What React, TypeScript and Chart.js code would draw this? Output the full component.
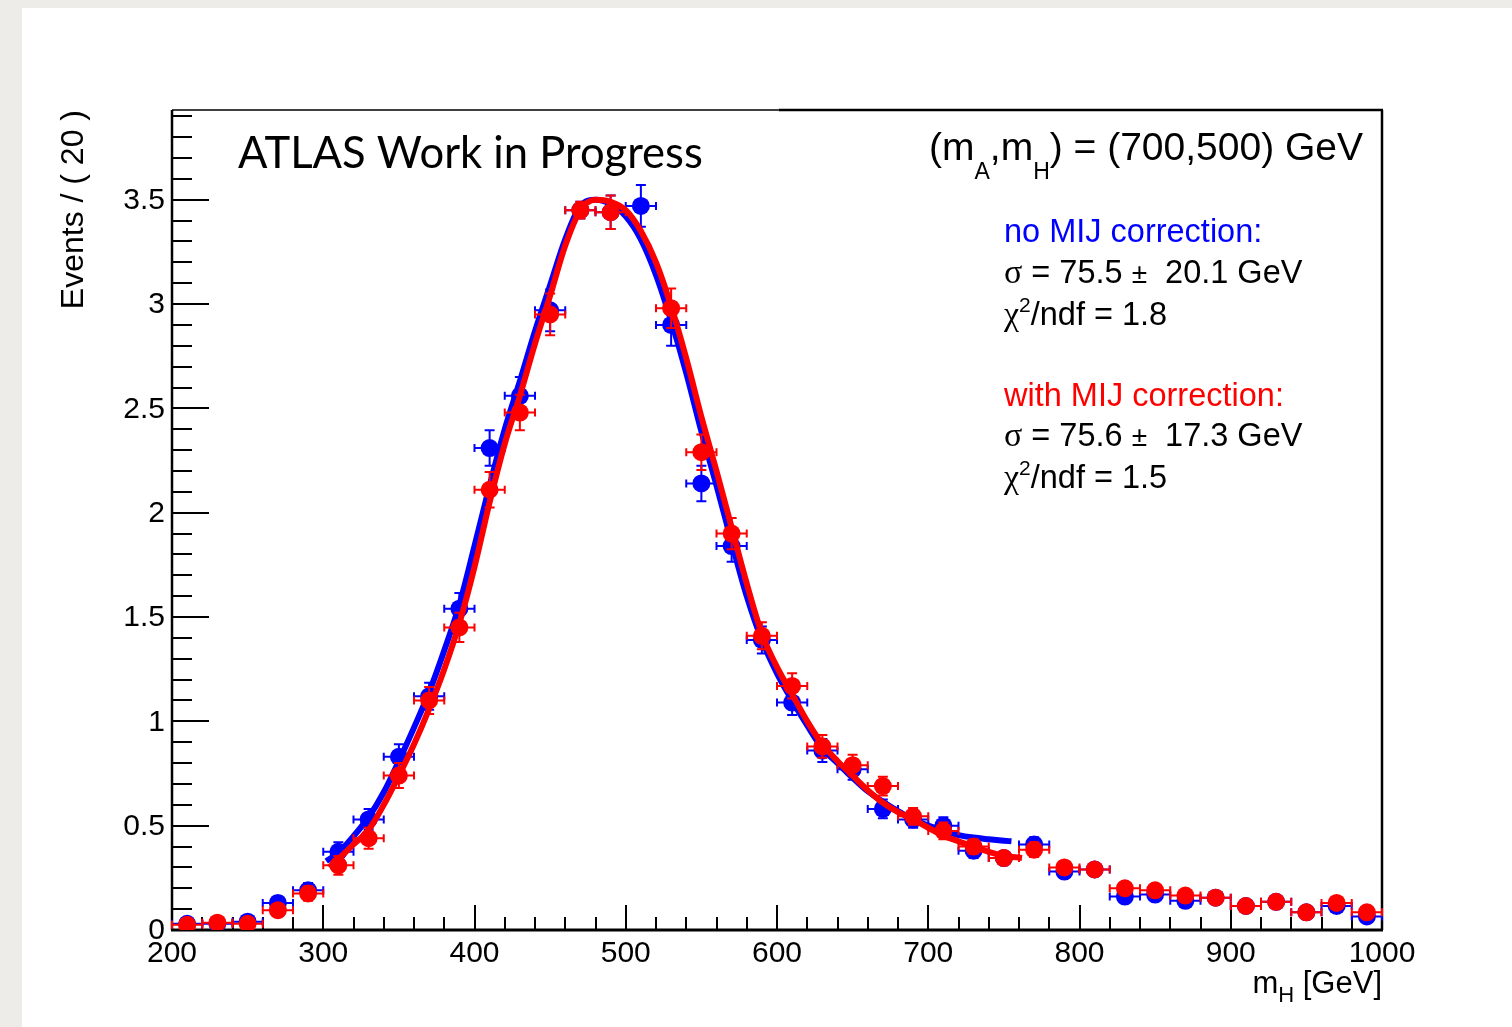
import React, { useEffect, useRef } from 'react';
import { Chart, registerables } from 'chart.js';

Chart.register(...registerables);

// Bin centres of the m_H histogram (20 GeV bins)
const binCenters = [
  210, 230, 250, 270, 290, 310, 330, 350, 370, 390,
  410, 430, 450, 470, 490, 510, 530, 550, 570, 590,
  610, 630, 650, 670, 690, 710, 730, 750, 770, 790,
  810, 830, 850, 870, 890, 910, 930, 950, 970, 990,
];
const binHalfWidth = 10;

// Events per bin without the MIJ correction
const noMijValues = [
  0.03, 0.03, 0.04, 0.13, 0.19, 0.375, 0.53, 0.83, 1.12, 1.54,
  2.31, 2.56, 2.97, 3.45, 3.44, 3.47, 2.90, 2.14, 1.84, 1.39,
  1.09, 0.86, 0.77, 0.58, 0.53, 0.50, 0.38, 0.345, 0.41, 0.28,
  0.29, 0.16, 0.17, 0.14, 0.155, 0.115, 0.135, 0.085, 0.115, 0.065,
];
const noMijErrors = [
  0.012, 0.012, 0.015, 0.03, 0.035, 0.045, 0.05, 0.06, 0.065, 0.075,
  0.085, 0.09, 0.1, 0.04, 0.08, 0.1, 0.1, 0.085, 0.075, 0.065,
  0.06, 0.055, 0.05, 0.045, 0.04, 0.04, 0.035, 0.03, 0.035, 0.03,
  0.03, 0.025, 0.025, 0.02, 0.02, 0.02, 0.02, 0.015, 0.02, 0.015,
];

// Events per bin with the MIJ correction
const withMijValues = [
  0.025, 0.035, 0.03, 0.095, 0.175, 0.31, 0.44, 0.74, 1.10, 1.45,
  2.11, 2.48, 2.95, 3.45, 3.44, null, 2.98, 2.29, 1.90, 1.41,
  1.17, 0.88, 0.79, 0.69, 0.545, 0.475, 0.40, 0.345, 0.385, 0.30,
  0.29, 0.20, 0.19, 0.165, 0.155, 0.115, 0.135, 0.085, 0.13, 0.085,
];
const withMijErrors = [
  0.012, 0.012, 0.012, 0.03, 0.035, 0.045, 0.05, 0.06, 0.065, 0.07,
  0.085, 0.085, 0.1, 0.04, 0.08, null, 0.095, 0.085, 0.075, 0.065,
  0.06, 0.055, 0.05, 0.045, 0.04, 0.04, 0.035, 0.03, 0.035, 0.03,
  0.03, 0.025, 0.025, 0.02, 0.02, 0.02, 0.02, 0.015, 0.02, 0.015,
];

// Fitted signal shapes, sampled along m_H
const noMijFitX = [
  302, 310, 320, 330, 340, 350, 360, 370, 380, 390,
  400, 410, 420, 430, 440, 450, 460, 470, 480, 490,
  500, 510, 520, 530, 540, 550, 560, 570, 580, 590,
  600, 610, 620, 630, 640, 650, 660, 670, 680, 690,
  700, 710, 720, 730, 740, 750, 755,
];
const noMijFitY = [
  0.33, 0.37, 0.45, 0.54, 0.66, 0.81, 0.97, 1.14, 1.34, 1.56,
  1.84, 2.13, 2.40, 2.63, 2.87, 3.09, 3.31, 3.47, 3.50, 3.48,
  3.42, 3.31, 3.14, 2.92, 2.67, 2.39, 2.13, 1.86, 1.60, 1.39,
  1.23, 1.10, 0.98, 0.87, 0.80, 0.73, 0.665, 0.615, 0.57, 0.53,
  0.50, 0.475, 0.455, 0.443, 0.435, 0.428, 0.425,
];
const withMijFitX = [
  304, 310, 320, 330, 340, 350, 360, 370, 380, 390,
  400, 410, 420, 430, 440, 450, 460, 470, 480, 490,
  500, 510, 520, 530, 540, 550, 560, 570, 580, 590,
  600, 610, 620, 630, 640, 650, 660, 670, 680, 690,
  700, 710, 720, 730, 740, 750, 762,
];
const withMijFitY = [
  0.30, 0.34, 0.41, 0.48, 0.60, 0.74, 0.89, 1.06, 1.25, 1.47,
  1.74, 2.05, 2.33, 2.56, 2.81, 3.04, 3.28, 3.45, 3.50, 3.49,
  3.45, 3.35, 3.20, 2.99, 2.74, 2.46, 2.20, 1.93, 1.66, 1.42,
  1.26, 1.13, 1.00, 0.89, 0.81, 0.74, 0.67, 0.61, 0.565, 0.53,
  0.49, 0.452, 0.425, 0.40, 0.375, 0.356, 0.345,
];

// Axis ranges and labelled ticks
const xRange = [200, 1000];
const yRange = [0, 3.93];
const xMajorTicks = [200, 300, 400, 500, 600, 700, 800, 900, 1000];
const xTickLabels = ['200', '300', '400', '500', '600', '700', '800', '900', '1000'];
const yMajorTicks = [0, 0.5, 1, 1.5, 2, 2.5, 3, 3.5];
const yTickLabels = ['0', '0.5', '1', '1.5', '2', '2.5', '3', '3.5'];
const xMinorStep = 20;
const yMinorStep = 0.1;

const BLUE = '#0000ff';
const RED = '#ff0000';
const SANS = '"Liberation Sans", Arial, Helvetica, sans-serif';
const SERIF = '"Liberation Serif", "DejaVu Serif", serif';
const ATLAS_FONT = 'Lato, "Open Sans", sans-serif';

type Run = { text: string; size: number; family?: string; dy?: number; color?: string };

function drawRuns(ctx: CanvasRenderingContext2D, runs: Run[], x: number, y: number, align: 'left' | 'right' = 'left') {
  ctx.textAlign = 'left';
  ctx.textBaseline = 'alphabetic';
  const widths = runs.map((r) => {
    ctx.font = `${r.size}px ${r.family || SANS}`;
    return ctx.measureText(r.text).width;
  });
  const total = widths.reduce((a, b) => a + b, 0);
  let cx = align === 'right' ? x - total : x;
  runs.forEach((r, i) => {
    ctx.font = `${r.size}px ${r.family || SANS}`;
    ctx.fillStyle = r.color || '#000000';
    ctx.fillText(r.text, cx, y + (r.dy || 0));
    cx += widths[i];
  });
}

function toPoints(xs: number[], ys: (number | null)[]) {
  const pts: { x: number; y: number }[] = [];
  xs.forEach((x, i) => {
    const y = ys[i];
    if (y !== null && y !== undefined) pts.push({ x, y });
  });
  return pts;
}

const errorSets: Record<string, { values: (number | null)[]; errors: (number | null)[]; color: string }> = {
  noMij: { values: noMijValues, errors: noMijErrors, color: BLUE },
  withMij: { values: withMijValues, errors: withMijErrors, color: RED },
};

const rootStyle = {
  id: 'rootStyle',
  beforeDraw(chart: any) {
    const ctx = chart.ctx as CanvasRenderingContext2D;
    ctx.save();
    ctx.fillStyle = '#eeece8';
    ctx.fillRect(0, 0, chart.width, chart.height);
    ctx.fillStyle = '#ffffff';
    ctx.fillRect(22, 8, chart.width - 22, chart.height - 8);
    ctx.restore();
  },
  beforeDatasetsDraw(chart: any) {
    const ctx = chart.ctx as CanvasRenderingContext2D;
    const { left, right, top, bottom } = chart.chartArea;
    const xs = chart.scales.x;
    const ys = chart.scales.y;
    ctx.save();
    ctx.strokeStyle = '#000000';
    ctx.lineCap = 'butt';

    // y ticks, pointing into the frame
    ctx.lineWidth = 2;
    const nY = Math.floor((yRange[1] - yRange[0]) / yMinorStep + 1e-6);
    for (let i = 0; i <= nY; i++) {
      const v = yRange[0] + i * yMinorStep;
      const py = Math.round(ys.getPixelForValue(v));
      const len = i % 5 === 0 ? 37 : 20;
      ctx.beginPath();
      ctx.moveTo(left, py);
      ctx.lineTo(left + len, py);
      ctx.stroke();
    }
    // x ticks
    const nX = Math.round((xRange[1] - xRange[0]) / xMinorStep);
    for (let i = 0; i <= nX; i++) {
      const v = xRange[0] + i * xMinorStep;
      const px = Math.round(xs.getPixelForValue(v));
      const len = i % 5 === 0 ? 25 : 13;
      ctx.beginPath();
      ctx.moveTo(px, bottom);
      ctx.lineTo(px, bottom - len);
      ctx.stroke();
    }

    // frame
    ctx.lineWidth = 2.5;
    ctx.beginPath();
    ctx.moveTo(left, top);
    ctx.lineTo(left, bottom);
    ctx.moveTo(right, top);
    ctx.lineTo(right, bottom);
    ctx.stroke();
    ctx.lineWidth = 3;
    ctx.beginPath();
    ctx.moveTo(left - 1, bottom);
    ctx.lineTo(right + 1, bottom);
    ctx.stroke();
    const split = xs.getPixelForValue(601);
    ctx.lineWidth = 1.5;
    ctx.beginPath();
    ctx.moveTo(left, top);
    ctx.lineTo(split, top);
    ctx.stroke();
    ctx.lineWidth = 2.5;
    ctx.beginPath();
    ctx.moveTo(split, top);
    ctx.lineTo(right + 1, top);
    ctx.stroke();
    ctx.restore();
  },
  beforeDatasetDraw(chart: any, args: any) {
    const ds = chart.data.datasets[args.index];
    const set = errorSets[ds.errorKey];
    if (!set) return;
    const ctx = chart.ctx as CanvasRenderingContext2D;
    const xs = chart.scales.x;
    const ys = chart.scales.y;
    ctx.save();
    ctx.strokeStyle = set.color;
    ctx.lineWidth = 2;
    binCenters.forEach((c, i) => {
      const v = set.values[i];
      const e = set.errors[i];
      if (v === null || e === null) return;
      const px = xs.getPixelForValue(c);
      const py = ys.getPixelForValue(v);
      const x0 = xs.getPixelForValue(c - binHalfWidth);
      const x1 = xs.getPixelForValue(c + binHalfWidth);
      const y0 = ys.getPixelForValue(v - e);
      const y1 = ys.getPixelForValue(v + e);
      ctx.beginPath();
      ctx.moveTo(x0, py);
      ctx.lineTo(x1, py);
      ctx.moveTo(x0, py - 4);
      ctx.lineTo(x0, py + 4);
      ctx.moveTo(x1, py - 4);
      ctx.lineTo(x1, py + 4);
      ctx.moveTo(px, y0);
      ctx.lineTo(px, y1);
      ctx.moveTo(px - 5, y0);
      ctx.lineTo(px + 5, y0);
      ctx.moveTo(px - 5, y1);
      ctx.lineTo(px + 5, y1);
      ctx.stroke();
    });
    ctx.restore();
  },
  afterDraw(chart: any) {
    const ctx = chart.ctx as CanvasRenderingContext2D;
    const { left, right, top, bottom } = chart.chartArea;
    const xs = chart.scales.x;
    const ys = chart.scales.y;
    ctx.save();
    ctx.fillStyle = '#000000';

    // tick labels
    ctx.font = `30px ${SANS}`;
    ctx.textAlign = 'right';
    ctx.textBaseline = 'middle';
    yMajorTicks.forEach((v, i) => {
      ctx.fillText(yTickLabels[i], left - 7, ys.getPixelForValue(v) + 1);
    });
    ctx.textAlign = 'center';
    ctx.textBaseline = 'alphabetic';
    xMajorTicks.forEach((v, i) => {
      ctx.fillText(xTickLabels[i], xs.getPixelForValue(v), bottom + 32);
    });

    // axis titles
    drawRuns(ctx, [
      { text: 'm', size: 31 },
      { text: 'H', size: 22, dy: 9 },
      { text: ' [GeV]', size: 31 },
    ], right, bottom + 63, 'right');

    ctx.save();
    ctx.translate(83, top);
    ctx.rotate(-Math.PI / 2);
    ctx.font = `32px ${SANS}`;
    ctx.textAlign = 'right';
    ctx.textBaseline = 'alphabetic';
    ctx.fillStyle = '#000000';
    ctx.fillText('Events / ( 20 )', 0, 0);
    ctx.restore();

    // experiment label, fitted to its box width
    const atlasText = 'ATLAS Work in Progress';
    ctx.font = `40px ${ATLAS_FONT}`;
    const w40 = ctx.measureText(atlasText).width;
    const atlasSize = (40 * 465) / w40;
    ctx.font = `${atlasSize}px ${ATLAS_FONT}`;
    ctx.textAlign = 'left';
    ctx.fillText(atlasText, 238, 168);

    // mass point
    drawRuns(ctx, [
      { text: '(m', size: 39 },
      { text: 'A', size: 23, dy: 19 },
      { text: ',m', size: 39 },
      { text: 'H', size: 23, dy: 19 },
      { text: ') = (700,500) GeV', size: 39 },
    ], 929, 160);

    // fit summaries
    const sx = 1004;
    const fs = 32.5;
    drawRuns(ctx, [{ text: 'no MIJ correction:', size: fs, color: BLUE }], sx, 242);
    drawRuns(ctx, [
      { text: 'σ', size: 34, family: SERIF },
      { text: ' = 75.5 ', size: fs },
      { text: '±', size: 28 },
      { text: '  20.1 GeV', size: fs },
    ], sx, 283);
    drawRuns(ctx, [
      { text: 'χ', size: 34, family: SERIF },
      { text: '2', size: 21, dy: -13 },
      { text: '/ndf = 1.8', size: fs },
    ], sx, 325);
    drawRuns(ctx, [{ text: 'with MIJ correction:', size: fs, color: RED }], sx, 406);
    drawRuns(ctx, [
      { text: 'σ', size: 34, family: SERIF },
      { text: ' = 75.6 ', size: fs },
      { text: '±', size: 28 },
      { text: '  17.3 GeV', size: fs },
    ], sx, 446);
    drawRuns(ctx, [
      { text: 'χ', size: 34, family: SERIF },
      { text: '2', size: 21, dy: -13 },
      { text: '/ndf = 1.5', size: fs },
    ], sx, 488);

    ctx.restore();
  },
};

export default function App() {
  const canvasRef = useRef<HTMLCanvasElement>(null);

  useEffect(() => {
    const canvas = canvasRef.current;
    if (!canvas) return;
    const chart = new Chart(canvas, {
      type: 'scatter',
      data: {
        datasets: [
          {
            type: 'line',
            label: 'with MIJ fit',
            data: toPoints(withMijFitX, withMijFitY),
            borderColor: RED,
            borderWidth: 6,
            pointRadius: 0,
            showLine: true,
            fill: false,
            cubicInterpolationMode: 'monotone',
            order: 1,
          },
          {
            label: 'with MIJ correction',
            data: toPoints(binCenters, withMijValues),
            backgroundColor: RED,
            borderColor: RED,
            pointRadius: 9,
            pointBorderWidth: 0,
            showLine: false,
            order: 2,
            errorKey: 'withMij',
          } as any,
          {
            type: 'line',
            label: 'no MIJ fit',
            data: toPoints(noMijFitX, noMijFitY),
            borderColor: BLUE,
            borderWidth: 6,
            pointRadius: 0,
            showLine: true,
            fill: false,
            cubicInterpolationMode: 'monotone',
            order: 3,
          },
          {
            label: 'no MIJ correction',
            data: toPoints(binCenters, noMijValues),
            backgroundColor: BLUE,
            borderColor: BLUE,
            pointRadius: 9,
            pointBorderWidth: 0,
            showLine: false,
            order: 4,
            errorKey: 'noMij',
          } as any,
        ],
      },
      options: {
        animation: false,
        responsive: false,
        maintainAspectRatio: false,
        devicePixelRatio: 1,
        layout: { padding: { left: 172, top: 110, right: 130, bottom: 97 } },
        scales: {
          x: { type: 'linear', min: xRange[0], max: xRange[1], display: false },
          y: { type: 'linear', min: yRange[0], max: yRange[1], display: false },
        },
        plugins: {
          legend: { display: false },
          tooltip: { enabled: false },
        },
        events: [],
      },
      plugins: [rootStyle],
    });
    return () => chart.destroy();
  }, []);

  return (
    <div style={{ position: 'absolute', left: 0, top: 0, width: 1512, height: 1027 }}>
      <canvas ref={canvasRef} width={1512} height={1027} style={{ display: 'block', width: 1512, height: 1027 }} />
    </div>
  );
}
